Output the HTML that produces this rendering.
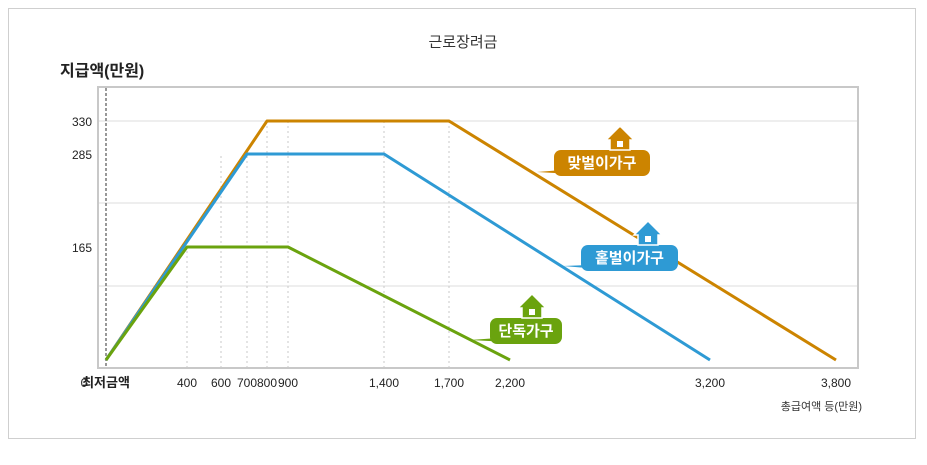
<!DOCTYPE html>
<html><head><meta charset="utf-8">
<style>
body{margin:0;background:#fff;font-family:"Liberation Sans","Noto Sans CJK KR",sans-serif;}
svg text{font-family:"Liberation Sans","Noto Sans CJK KR",sans-serif;}
</style></head>
<body>
<svg id="chart" width="927" height="460" xmlns="http://www.w3.org/2000/svg">
<rect x="8.5" y="8.5" width="907" height="430" fill="#fff" stroke="#cfcfcf"/>
<text x="463" y="47" text-anchor="middle" font-size="15" fill="#333">근로장려금</text>
<text x="60" y="76" font-size="16" font-weight="bold" fill="#222">지급액(만원)</text>
<rect x="98" y="87" width="760" height="281" fill="#fff" stroke="#c8c8c8" stroke-width="2"/>
<g id="grid"></g>
<g id="series"></g>
<g id="labels"></g>
<text x="862" y="410" text-anchor="end" font-size="11" fill="#333">총급여액 등(만원)</text>
</svg>
<script>
const xTickValues=[0,400,600,700,800,900,1400,1700,2200,3200,3800];
const xTickLabels=["최저금액","400","600","700","800","900","1,400","1,700","2,200","3,200","3,800"];
const yTickValues=[165,285,330];
const yTickLabels=["165","285","330"];
const singleX=[0,400,900,2200];
const singleY=[0,165,165,0];
const singleEarnerX=[0,700,1400,3200];
const singleEarnerY=[0,285,285,0];
const dualEarnerX=[0,800,1700,3800];
const dualEarnerY=[0,330,330,0];

const xPix=[106,187,221,247,267,288,384,449,510,710,836];
const yVals=[0,165,285,330], yPix=[360,247,154,121];
function interp(v,vs,ps){
  for(let i=0;i<vs.length-1;i++){
    if(v<=vs[i+1]||i==vs.length-2){return ps[i]+(v-vs[i])*(ps[i+1]-ps[i])/(vs[i+1]-vs[i]);}
  }
}
const xS=v=>interp(v,xTickValues,xPix);
const yS=v=>interp(v,yVals,yPix);
const NS="http://www.w3.org/2000/svg";
function mk(tag,attrs,parent){const e=document.createElementNS(NS,tag);for(const k in attrs)e.setAttribute(k,attrs[k]);parent.appendChild(e);return e;}
const grid=document.getElementById('grid'),series=document.getElementById('series'),labels=document.getElementById('labels');
[121,203,286].forEach(y=>{
  const l=mk('line',{x1:99,x2:857,y1:y,y2:y,stroke:'#dcdcdc'},grid);
  
  
});
xTickValues.forEach((v,i)=>{
  const x=xS(v);
  if(i>0&&i<9&&v!==2200){const l=mk('line',{x1:x,x2:x,y1:yS(0)+8,y2:v<=400?yS(165):(v<=700?yS(285):yS(330)),stroke:'#c8c8c8','stroke-dasharray':'2,3'},grid);
    
    }
  const t=mk('text',{x:x,y:387,'text-anchor':'middle','font-size':i==0?13:12,'font-weight':i==0?'bold':'normal',fill:'#222'},labels);
  t.textContent=xTickLabels[i];
  
  
});
const d0=mk('line',{x1:106,x2:106,y1:88,y2:367,stroke:'#777','stroke-dasharray':'3,2','stroke-width':1.5},grid);


const z=mk('text',{x:84,y:387,'text-anchor':'middle','font-size':12,fill:'#222'},labels);z.textContent='0';


yTickValues.forEach((v,i)=>{
  const t=mk('text',{x:92,y:yS(v)+5,'text-anchor':'end','font-size':12,fill:'#222'},labels);
  t.textContent=yTickLabels[i];
  
  
});
function line(xs,ys,color,name){
  const p=mk('polyline',{points:xs.map((x,i)=>xS(x)+','+yS(ys[i])).join(' '),fill:'none',stroke:color,'stroke-width':3,'stroke-linejoin':'round'},series);
  
  
}
line(dualEarnerX,dualEarnerY,'#cc8400','dual-earner-line');
line(singleEarnerX,singleEarnerY,'#2e9ad4','single-earner-line');
line(singleX,singleY,'#6aa30e','single-household-line');
function badge(x,y,w,text,color,tx,ty,name){
  const g=mk('g',{},labels);
  
  
  mk('path',{d:`M${x+8} ${y+20} L${tx} ${ty} L${x+18} ${y+24} Z`,fill:color},g);
  mk('rect',{x:x,y:y,width:w,height:26,rx:7,fill:color},g);
  const hx=x+w-40;
  mk('path',{d:`M${hx} ${y} L${hx} ${y-10} L${hx-4} ${y-10} L${hx+10} ${y-24} L${hx+24} ${y-10} L${hx+20} ${y-10} L${hx+20} ${y} Z`,fill:color,stroke:'#fff','stroke-width':1.5},g);
  mk('rect',{x:hx+7,y:y-9,width:6,height:6,fill:'#fff'},g);
  const t=mk('text',{x:x+w/2,y:y+18,'text-anchor':'middle','font-size':15,'font-weight':'bold',fill:'#fff'},g);
  t.textContent=text;
}
badge(554,150,96,'맞벌이가구','#cc8400',537,172,'dual-earner-badge');
badge(581,245,97,'홑벌이가구','#2e9ad4',563,266,'single-earner-badge');
badge(490,318,72,'단독가구','#6aa30e',470,340,'single-household-badge');
</script>
</body></html>
